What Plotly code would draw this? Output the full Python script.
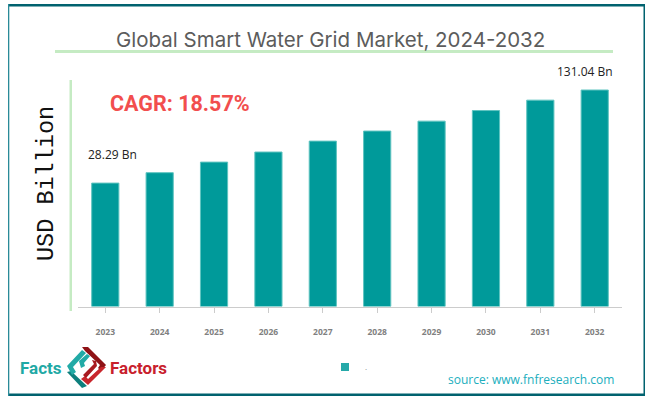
import plotly.graph_objects as go

years = ["2023", "2024", "2025", "2026", "2027", "2028", "2029", "2030", "2031", "2032"]
# Bar heights as drawn in the picture (the bars are not true to the two printed labels)
drawn_values = [74.7, 81.0, 87.4, 93.5, 100.1, 106.2, 112.2, 118.6, 124.9, 131.04]
first_label = "28.29 Bn"
last_label = "131.04 Bn"
title_text = "Global Smart Water Grid Market, 2024-2032"
axis_title = "USD Billion"
cagr_text = "CAGR: 18.57%"
source_text = "source: www.fnfresearch.com"
legend_name = "."

W, H = 650, 400
def px(x): return x / W
def py(y): return 1 - y / H

fig = go.Figure()
fig.add_trace(go.Bar(
    x=years, y=drawn_values, name=legend_name, width=0.5, showlegend=False,
    marker=dict(color="#009a9a", line=dict(color="#5fc4c0", width=1)),
))
# The legend swatch in the reference is smaller than a bar swatch
fig.add_trace(go.Scatter(
    x=[None], y=[None], name=legend_name, mode="markers", showlegend=True,
    marker=dict(symbol="square", size=8, color="#26a9a9"),
))

def poly(points, color):
    d = "M " + " L ".join(f"{px(a):.4f},{py(b):.4f}" for a, b in points) + " Z"
    return dict(type="path", xref="paper", yref="paper", path=d, fillcolor=color, line=dict(width=0), layer="above")

def rect(x0, y0, x1, y1, color):
    return dict(type="rect", xref="paper", yref="paper", x0=px(x0), x1=px(x1), y0=py(y0), y1=py(y1),
                fillcolor=color, line=dict(width=0), layer="below")

shapes = [
    rect(8, 4, 645, 6.5, "#00626f"),
    rect(8, 393.5, 645, 396, "#00626f"),
    rect(8, 4, 9.3, 396, "#2a8a98"),
    rect(643.5, 4, 645, 396, "#00626f"),
    rect(55, 50, 613, 53, "#c5ebc3"),
    rect(69.5, 80, 72, 311, "#c5ebc3"),
    poly([(82, 347), (88, 347), (106, 365), (101, 371), (98, 368), (100, 365), (85, 351)], "#8f1216"),
    poly([(106, 367), (88, 385), (81, 379), (85, 376), (88, 379), (101, 367)], "#c8262c"),
    poly([(71, 371), (87, 386), (82, 388), (67, 372)], "#0d7f7d"),
    poly([(67, 366), (82, 350), (86, 353), (73, 367), (76, 372), (72, 375)], "#22aaa6"),
    poly([(79, 361), (87, 354), (90, 356), (84, 363), (85, 366), (81, 368)], "#22aaa6"),
    poly([(83, 375), (94, 364), (92, 360), (96, 361), (97, 366), (86, 378)], "#a81a20"),
]

annotations = [
    dict(text=title_text, x=px(330), y=py(39), font=dict(family="Inter, Open Sans", size=20.5, color="#5c5c5c")),
    dict(text=axis_title, x=px(46), y=py(184), textangle=-90, font=dict(family="Liberation Mono", size=23.5, color="#111111")),
    dict(text=f"<b>{cagr_text}</b>", x=px(179.5), y=py(103), font=dict(family="Roboto", size=21.5, color="#f24e4e")),
    dict(text=first_label, x=px(112), y=py(155), font=dict(family="Open Sans", size=12, color="#222222")),
    dict(text=last_label, x=px(585), y=py(71), font=dict(family="Open Sans", size=12, color="#222222")),
    dict(text=source_text, x=px(531), y=py(379), font=dict(family="Open Sans", size=12, color="#20aebd")),
    dict(text="<b>Facts</b>", x=px(41), y=py(368), font=dict(family="Roboto", size=17, color="#1fa9a5")),
    dict(text="<b>Factors</b>", x=px(138.5), y=py(368), font=dict(family="Roboto", size=17, color="#c8202c")),
]
for a in annotations:
    a.update(xref="paper", yref="paper", showarrow=False, xanchor="center", yanchor="middle")

fig.update_layout(
    width=W, height=H, margin=dict(l=0, r=0, t=0, b=0),
    paper_bgcolor="white", plot_bgcolor="white",
    shapes=shapes, annotations=annotations, bargap=0.5,
    legend=dict(x=px(325), y=py(367), xanchor="left", yanchor="middle", orientation="h",
                font=dict(size=8, color="#888888", family="Open Sans"), bgcolor="rgba(0,0,0,0)"),
    xaxis=dict(domain=[px(78.1), px(621.9)], type="category", showgrid=False, showline=True,
               linecolor="#cccccc", linewidth=1, ticks="outside", ticklen=5, tickcolor="#cccccc",
               ticklabelstandoff=12,
               tickfont=dict(family="Open Sans", size=8.5, color="#808080", weight="bold"), anchor="y"),
    yaxis=dict(domain=[py(306.5), py(60)], range=[0, 149.2], visible=False, fixedrange=True),
)
fig.write_html("out.html", config={"displayModeBar": False}, post_script="document.body.style.margin='0';")
